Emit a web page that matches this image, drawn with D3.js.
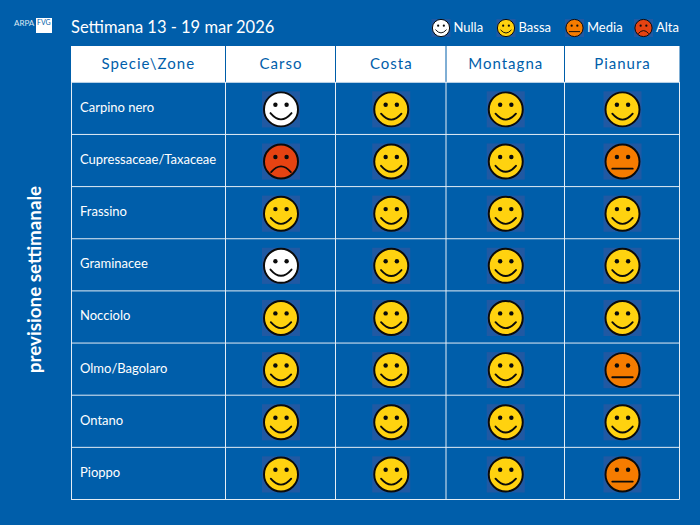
<!DOCTYPE html>
<html><head><meta charset="utf-8">
<script src="https://cdn.jsdelivr.net/npm/d3@7/dist/d3.min.js"></script>
<style>html,body{margin:0;padding:0;background:#005eaa}svg{display:block}text{font-family:Lato,"Noto Sans",sans-serif}</style>
</head><body><svg id="c" width="700" height="525"></svg>
<script>
const title = "Settimana 13 - 19 mar 2026";
const sideLabel = "previsione settimanale";
const cornerLabel = "Specie\\Zone";
const zones = ["Carso","Costa","Montagna","Pianura"];
const species = ["Carpino nero","Cupressaceae/Taxaceae","Frassino","Graminacee","Nocciolo","Olmo/Bagolaro","Ontano","Pioppo"];
const levels = ["Nulla","Bassa","Media","Alta"];
const carso    = ["Nulla","Alta","Bassa","Nulla","Bassa","Bassa","Bassa","Bassa"];
const costa    = ["Bassa","Bassa","Bassa","Bassa","Bassa","Bassa","Bassa","Bassa"];
const montagna = ["Bassa","Bassa","Bassa","Bassa","Bassa","Bassa","Bassa","Bassa"];
const pianura  = ["Bassa","Media","Bassa","Bassa","Bassa","Media","Bassa","Media"];
const forecast = [carso,costa,montagna,pianura];

const BLUE="#005eaa", INK="#0b0b0b";
const svg=d3.select("#c");
svg.append("rect").attr("width",700).attr("height",525).attr("fill",BLUE);

const edges=[225.5,335.5,446,564.5,679.5], left=71;
const colL=d3.scaleOrdinal().domain(zones).range(edges.slice(0,4));
const colR=d3.scaleOrdinal().domain(zones).range(edges.slice(1));
const colC=z=>(colL(z)+colR(z))/2;
const y=d3.scaleBand().domain(species).range([82.3,499.5]);
const fillOf=d3.scaleOrdinal().domain(levels).range(["#ffffff","#ffd20f","#f57c00","#e64312"]);
const mouth=d3.scaleOrdinal().domain(levels).range([
  "M-.62,.22 Q0,.95 .62,.22",
  "M-.6,.25 Q0,.95 .6,.25",
  "M-.6,.42 L.6,.42",
  "M-.58,.62 Q0,-.05 .58,.62"]);

function face(g,level,cx,cy,r,pad){
  const f=g.append("g").attr("transform",`translate(${cx},${cy})`);
  f.append("rect").attr("x",-pad).attr("y",-pad*0.95).attr("width",pad*2).attr("height",pad*1.9).attr("fill","#2059a3");
  f.append("circle").attr("r",r).attr("fill",fillOf(level)).attr("stroke",INK).attr("stroke-width",r*0.115);
  [-1,1].forEach(s=>f.append("circle").attr("cx",s*r*.33).attr("cy",-r*.27).attr("r",r*.13).attr("fill",INK));
  f.append("path").attr("d",mouth(level)).attr("transform",`scale(${r})`).attr("fill","none")
   .attr("stroke",INK).attr("stroke-width",.11).attr("stroke-linecap","round");
}

// header
const hT=46,hB=82;
svg.append("rect").attr("x",left).attr("y",hT).attr("width",edges[4]-left).attr("height",hB-hT).attr("fill","#fff");
const hs=svg.append("g").attr("fill",BLUE).attr("font-size",15).attr("letter-spacing",1).attr("text-anchor","middle");
hs.append("text").attr("x",(left+edges[0])/2).attr("y",69).text(cornerLabel);
zones.forEach(z=>hs.append("text").attr("x",colC(z)+.5).attr("y",69).text(z));
edges.slice(0,4).forEach(x=>svg.append("line").attr("x1",x).attr("x2",x).attr("y1",hT).attr("y2",hB).attr("stroke",BLUE).attr("stroke-width",1));

// grid
const grid=svg.append("g").attr("stroke","#e4edf5").attr("stroke-width",1);
[left+.5,...edges].forEach(x=>grid.append("line").attr("x1",x).attr("x2",x).attr("y1",hB).attr("y2",y.range()[1]));
[...species.map(s=>y(s)),y.range()[1]].forEach(v=>grid.append("line").attr("x1",left).attr("x2",edges[4]).attr("y1",v).attr("y2",v));

// rows
species.forEach((s,i)=>{
  svg.append("text").attr("x",80).attr("y",y(s)+y.bandwidth()/2+3.5).attr("fill","#fff").attr("font-size",13).text(s);
  zones.forEach((z,j)=>face(svg,forecast[j][i],colC(z)+.5,y(s)+y.bandwidth()/2+1,17,19));
});

// title
svg.append("text").attr("x",71).attr("y",33).attr("fill","#fff").attr("font-size",16.5).text(title);

// side label
svg.append("text").attr("transform","translate(41,279.5) rotate(-90)").attr("text-anchor","middle").attr("fill","#fff")
  .attr("font-size",18.8).attr("font-weight",700).text(sideLabel);

// logo
svg.append("text").attr("x",14).attr("y",26).attr("fill","#dfe9f3").attr("font-size",8).text("ARPA");
svg.append("rect").attr("x",36).attr("y",18).attr("width",16).attr("height",15).attr("fill","#fff");
svg.append("text").attr("x",37).attr("y",25).attr("fill",BLUE).attr("font-size",7).text("FVG");

// legend
const legendX=d3.scaleOrdinal().domain(levels).range([441,506,574.5,643.5]);
levels.forEach(l=>{
  face(svg,l,legendX(l),28,8.6,9.5);
  svg.append("text").attr("x",legendX(l)+12.5).attr("y",31.5).attr("fill","#fff").attr("font-size",13).text(l);
});
</script></body></html>
